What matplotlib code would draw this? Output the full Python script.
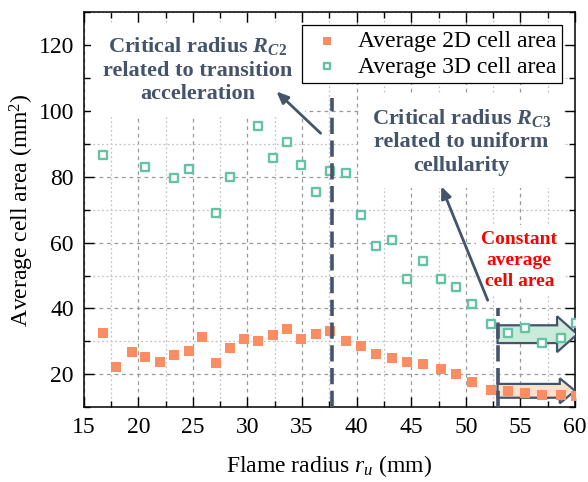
import matplotlib
matplotlib.use("Agg")
import matplotlib.pyplot as plt
from matplotlib.ticker import MultipleLocator
from matplotlib.patches import FancyArrow

plt.rcParams["font.family"] = ["Liberation Serif", "DejaVu Serif"]
plt.rcParams["mathtext.fontset"] = "custom"
plt.rcParams["mathtext.rm"] = "Liberation Serif"
plt.rcParams["mathtext.it"] = "Liberation Serif:italic"
plt.rcParams["mathtext.bf"] = "Liberation Serif:bold"
plt.rcParams["mathtext.bfit"] = "Liberation Serif:bold:italic"

# Average 2D cell area vs flame radius
r_2d = [16.8, 18.0, 19.4, 20.6, 22.0, 23.3, 24.6, 25.85, 27.1, 28.4, 29.7,
        31.0, 32.35, 33.6, 34.9, 36.25, 37.6, 39.0, 40.4, 41.8, 43.2, 44.6,
        46.1, 47.7, 49.1, 50.6, 52.3, 53.85, 55.4, 57.0, 58.7, 60.1]
area_2d = [32.6, 22.3, 26.7, 25.2, 23.8, 25.8, 27.0, 31.4, 23.5, 28.1, 30.6,
           30.1, 32.0, 33.8, 30.6, 32.1, 33.2, 30.1, 28.7, 26.1, 25.0, 23.6,
           23.1, 21.6, 20.1, 17.8, 15.2, 14.9, 14.2, 13.7, 13.8, 13.5]

# Average 3D cell area vs flame radius
r_3d = [16.8, 20.6, 23.3, 24.6, 27.1, 28.4, 31.0, 32.35, 33.6, 34.9, 36.25,
        37.6, 39.0, 40.4, 41.8, 43.2, 44.6, 46.1, 47.7, 49.1, 50.6, 52.3,
        53.85, 55.4, 57.0, 58.7, 60.1]
area_3d = [86.5, 83.1, 79.6, 82.3, 69.0, 79.9, 95.3, 85.8, 90.6, 83.7, 75.5,
           81.8, 81.1, 68.3, 58.9, 60.7, 49.1, 54.3, 49.1, 46.6, 41.3, 35.2,
           32.7, 34.2, 29.4, 30.9, 35.6]

# Critical radii
R_C2 = 37.7
R_C2_top = 104
R_C3 = 52.9
R_C3_top = 40

C_2D = "#FC8D62"
C_3D = "#66C2A5"
SLATE = "#44546A"

fig = plt.figure(figsize=(5.88, 4.82), dpi=100)
ax = fig.add_axes([0.1423, 0.155, 0.8357, 0.820])

ax.set_xlim(15, 60)
ax.set_ylim(10, 130)
ax.xaxis.set_major_locator(MultipleLocator(5))
ax.xaxis.set_minor_locator(MultipleLocator(2.5))
ax.yaxis.set_major_locator(MultipleLocator(20))
ax.yaxis.set_minor_locator(MultipleLocator(10))

ax.grid(which="major", linestyle=(0, (3, 3)), color="#9a9a9a", linewidth=0.9)
ax.grid(which="minor", linestyle=(0, (1.5, 2)), color="#c4c4c4", linewidth=0.9)
ax.set_axisbelow(True)

ax.tick_params(which="both", direction="in", top=True, right=True,
               labelsize=17, width=1.0)
ax.tick_params(which="major", length=7, pad=7)
ax.tick_params(which="minor", length=4)
for s in ax.spines.values():
    s.set_linewidth(1.1)

ax.scatter(r_2d, area_2d, marker="s", s=50, color=C_2D, linewidths=0,
           zorder=4, label="Average 2D cell area")
ax.scatter(r_3d, area_3d, marker="s", s=30, facecolors="white",
           edgecolors=C_3D, linewidths=1.7, zorder=4,
           label="Average 3D cell area")

# Block arrows marking the constant-area region
ax.add_patch(FancyArrow(R_C3, 32.2, 60.2 - R_C3, 0, width=5.4,
                        head_width=10.9, head_length=1.85,
                        length_includes_head=True, facecolor="#CBEBDA",
                        edgecolor=SLATE, linewidth=1.6, zorder=3))
ax.add_patch(FancyArrow(R_C3, 15.0, 60.0 - R_C3, 0, width=4.2,
                        head_width=7.6, head_length=1.4,
                        length_includes_head=True, facecolor="#FDE0CC",
                        edgecolor=SLATE, linewidth=1.6, zorder=3))

# Critical radius markers
ax.plot([R_C2, R_C2], [10, R_C2_top], color=SLATE, linewidth=2.6,
        dashes=(4.5, 1.8), zorder=5)
ax.plot([R_C3, R_C3], [10, R_C3_top], color=SLATE, linewidth=2.6,
        dashes=(4.5, 1.8), zorder=5)

box = dict(boxstyle="square,pad=0.55", facecolor="white", edgecolor="none")
ax.text(25.45, 112.5,
        "Critical radius $\\mathbfit{R}_{\\mathbfit{C}\\mathbf{2}}$\n"
        "related to transition\nacceleration",
        ha="center", va="center", fontsize=16, fontweight="bold",
        color=SLATE, linespacing=1.25, bbox=box, zorder=2)
ax.text(49.6, 90.7,
        "Critical radius $\\mathbfit{R}_{\\mathbfit{C}\\mathbf{3}}$\n"
        "related to uniform\ncellularity",
        ha="center", va="center", fontsize=16, fontweight="bold",
        color=SLATE, linespacing=1.25, bbox=box, zorder=2)
ax.text(54.9, 54.5, "Constant\naverage\ncell area",
        ha="center", va="center", fontsize=14, fontweight="bold",
        color="red", linespacing=1.3,
        bbox=dict(boxstyle="square,pad=0.3", facecolor="white",
                  edgecolor="none"), zorder=2)

arrow_kw = dict(arrowstyle="-|>,head_length=0.7,head_width=0.3",
                color=SLATE, linewidth=2.0, shrinkA=0, shrinkB=0)
ax.annotate("", xy=(32.65, 105.9), xytext=(36.7, 93.2),
            arrowprops=arrow_kw, zorder=6)
ax.annotate("", xy=(47.75, 77.1), xytext=(52.0, 42.5),
            arrowprops=arrow_kw, zorder=6)

leg = ax.legend(loc="upper right", fontsize=17, frameon=True, fancybox=False,
                framealpha=1, edgecolor="black", borderaxespad=0.55,
                handletextpad=0.5, borderpad=0.25, labelspacing=0.15,
                handlelength=1.6, scatterpoints=1, markerscale=0.75)
leg.get_frame().set_linewidth(0.9)
leg.set_zorder(7)

ax.set_xlabel("Flame radius $r_u$ (mm)", fontsize=17, labelpad=11)
ax.set_ylabel("Average cell area (mm$^2$)", fontsize=17, labelpad=2)

fig.savefig("out.png", dpi=100)
